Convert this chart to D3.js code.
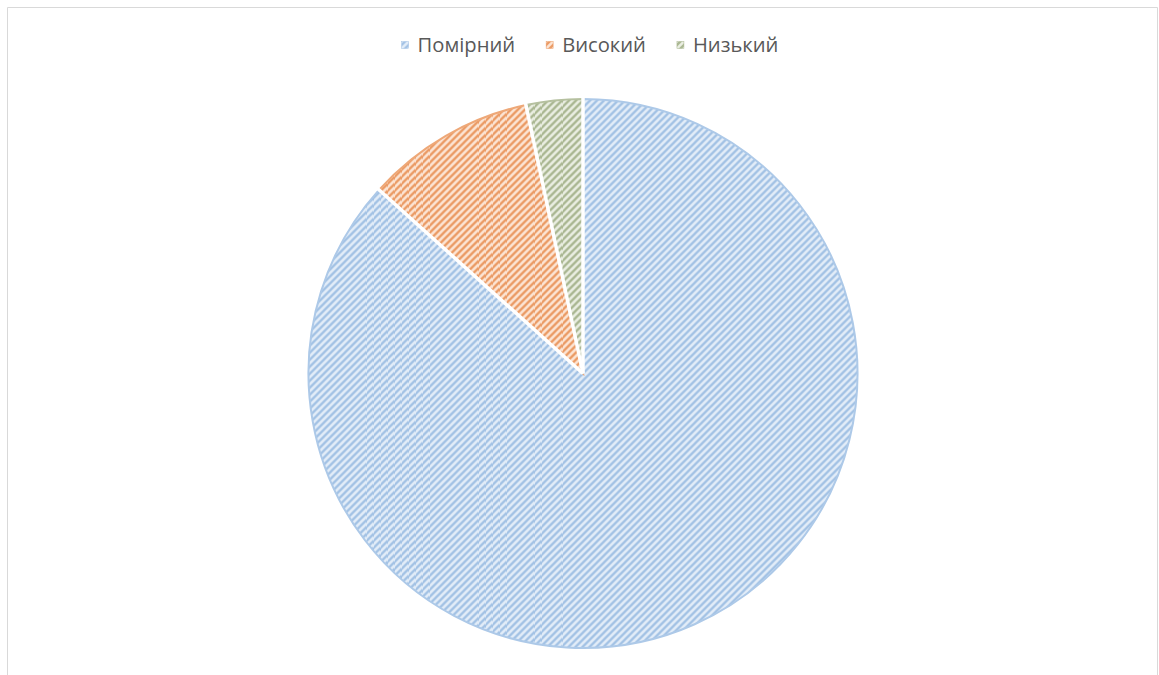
<!DOCTYPE html>
<html>
<head>
<meta charset="utf-8">
<script src="https://cdn.jsdelivr.net/npm/d3@7"></script>
<style>
  html, body { margin: 0; padding: 0; background: #fff; }
  svg { display: block; }
</style>
</head>
<body>
<svg id="chart" width="1159" height="675"></svg>
<script>
// Category names and counts for each slice
const categories = ["Помірний", "Високий", "Низький"];
const values = [26, 3, 1];
// Stripe colour and light background for each slice
const stripeColors = ["#a3c2e5", "#eb9b65", "#aab792"];
const backColors = ["#e3edf8", "#fce5d5", "#eaeee2"];
const edgeColors = ["#adc9e8", "#eea878", "#b5c09f"];

const W = 1159, H = 675;
const svg = d3.select("#chart");

// Frame of the chart area
svg.append("path")
  .attr("d", `M7.5,${H} V7.5 H1157.5 V${H}`)
  .attr("fill", "none")
  .attr("stroke", "#d9d9d9")
  .attr("stroke-width", 1);

// Diagonal-stripe patterns, one per category
const P = 7;
const defs = svg.append("defs");
categories.forEach((c, i) => {
  const p = defs.append("pattern")
    .attr("id", "stripe" + i)
    .attr("patternUnits", "userSpaceOnUse")
    .attr("width", P).attr("height", P);
  p.append("rect").attr("width", P).attr("height", P).attr("fill", backColors[i]);
  p.append("path")
    .attr("d", `M-1,${P + 1} L${P + 1},-1 M-${P / 2 + 1},${P / 2 + 1} L${P / 2 + 1},-${P / 2 + 1} M${P / 2 - 1},${P * 1.5 + 1} L${P * 1.5 + 1},${P / 2 - 1}`)
    .attr("stroke", stripeColors[i])
    .attr("stroke-width", 2.4);
});

const cx = 583, cy = 373.5, r = 274.5;

const pie = d3.pie().sort(null).value(d => d)(values);
const arc = d3.arc().innerRadius(0).outerRadius(r);

const g = svg.append("g").attr("transform", `translate(${cx},${cy})`);

// Slice fill with a soft rim in the stripe colour
g.selectAll("path.slice")
  .data(pie)
  .join("path")
  .attr("class", "slice")
  .attr("d", arc)
  .attr("fill", (d, i) => `url(#stripe${i})`)
  .attr("stroke", (d, i) => edgeColors[i])
  .attr("stroke-width", 2);

// White separators between slices
g.selectAll("path.sep")
  .data(pie)
  .join("path")
  .attr("class", "sep")
  .attr("d", d => {
    const a = d.startAngle;
    return `M0,0 L${Math.sin(a) * (r + 2)},${-Math.cos(a) * (r + 2)}`;
  })
  .attr("stroke", "#fff")
  .attr("stroke-width", 3.5)
  .attr("stroke-linecap", "butt");

// Legend
const legend = svg.append("g");
const fontSize = 20.2;
const gap = 31, markerGap = 9, marker = 7;
const items = legend.selectAll("g.item")
  .data(categories)
  .join("g")
  .attr("class", "item");
items.append("rect")
  .attr("width", marker).attr("height", marker)
  .attr("y", -marker / 2)
  .attr("fill", (d, i) => `url(#stripe${i})`)
  .attr("stroke", (d, i) => stripeColors[i])
  .attr("stroke-width", 0.5);
items.append("text")
  .attr("x", marker + markerGap)
  .attr("dy", "0.35em")
  .attr("font-family", "'Open Sans', 'Liberation Sans', sans-serif")
  .attr("font-size", fontSize)
  .attr("fill", "#595959")
  .text(d => d);

const widths = [];
items.each(function () { widths.push(this.getBBox().width); });
const total = d3.sum(widths) + gap * (widths.length - 1);
let start = 590 - total / 2;
items.attr("transform", (d, i) => {
  const tx = start;
  start += widths[i] + gap;
  return `translate(${tx},45)`;
});
</script>
</body>
</html>
